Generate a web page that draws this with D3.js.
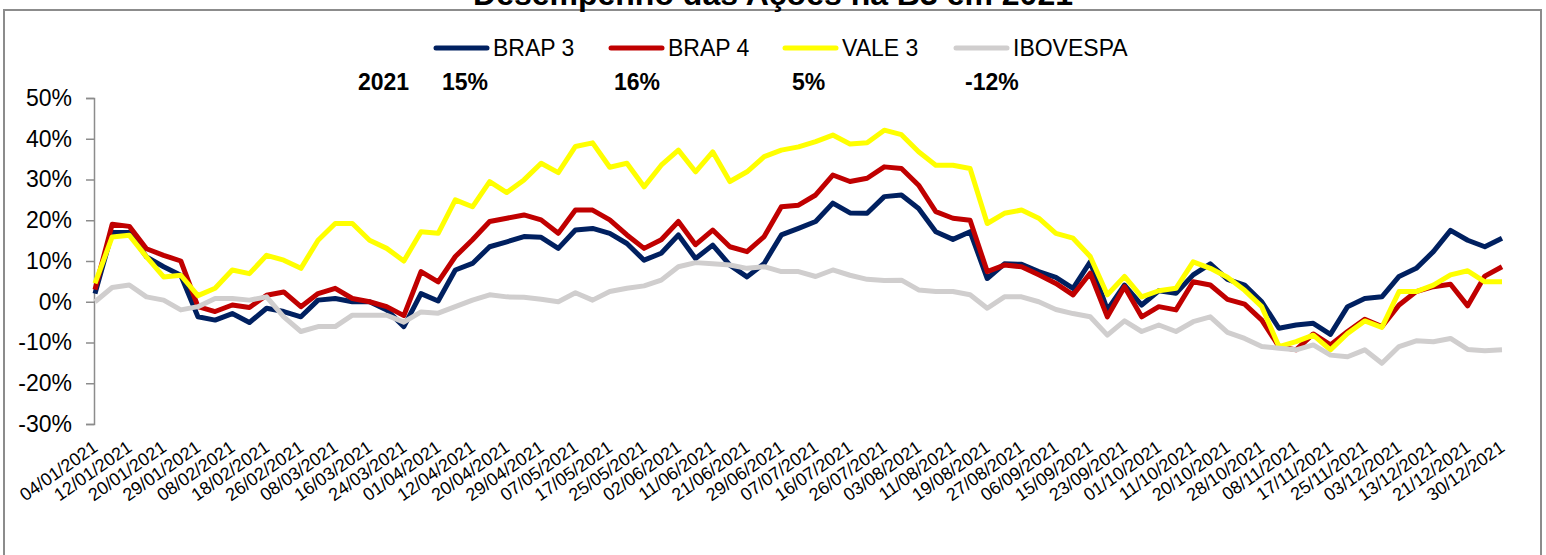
<!DOCTYPE html>
<html>
<head>
<meta charset="utf-8">
<script src="https://cdn.jsdelivr.net/npm/d3@7"></script>
<style>
  body { margin: 0; background: #fff; }
  text { font-family: "Liberation Sans", Arial, sans-serif; }
</style>
</head>
<body>
<div id="chart"></div>
<script>
    // B3 closed days in 2021 (weekdays only)
    var holidays = ["01/01", "25/01", "15/02", "16/02", "02/04", "21/04", "03/06",
      "09/07", "07/09", "12/10", "02/11", "15/11", "24/12", "31/12"];

    var seriesNames = ["BRAP 3", "BRAP 4", "VALE 3", "IBOVESPA"];
    var seriesColors = ["#002060", "#c00000", "#ffff00", "#d0cece"];
    var yearReturns = ["15%", "16%", "5%", "-12%"];
    var yTicks = [-30, -20, -10, 0, 10, 20, 30, 40, 50];

    // values in %, one every 3 trading days (04/01, 07/01, 12/01, ...)
    var brap3 = [2.0, 17, 17, 11, 8.6, 6.5, -3.7, -4.5, -2.9, -5.1, -1.6, -2.4, -3.7, 0.4, 0.8, 0, 0, -2,
      -6.1, 2.0, 0.2, 7.8, 9.4, 13.5, 14.7, 16, 15.8, 13.1, 17.6, 18, 16.8, 14.3, 10.2, 11.9, 16.4, 10.6,
      13.9, 9, 6.1, 9.4, 16.4, 18, 19.7, 24.2, 21.8, 21.7, 25.8, 26.2, 22.9, 17.2, 15.3, 17.2, 5.7, 9.3,
      9.2, 7.4, 6, 3.3, 9.8, -2, 4.1, -0.8, 2.7, 2.1, 6.6, 9.3, 5.5, 4.1, 0, -6.5, -5.7, -5.3, -8, -1.2,
      0.8, 1.2, 6.2, 8.2, 12.3, 17.5, 15.1, 13.5, 15.6];
    var brap4 = [3, 19, 18.5, 13, 11.4, 10, -1.2, -2.4, -0.8, -1.4, 1.6, 2.4, -1.2, 2.0, 3.3, 0.8, 0, -1.2,
      -3.4, 7.4, 4.9, 11.1, 15.2, 19.7, 20.5, 21.3, 20.1, 16.8, 22.5, 22.5, 20.1, 16.4, 13.1, 15.2, 19.7, 14,
      17.6, 13.5, 12.3, 16, 23.3, 23.7, 26.2, 31.1, 29.5, 30.3, 33.1, 32.7, 28.6, 22.1, 20.5, 20, 7.4, 9,
      8.6, 6.6, 4.5, 1.7, 7, -3.7, 3.7, -3.7, -1.2, -2, 4.9, 4.1, 0.6, -0.6, -4.5, -11, -11.8, -7.9, -10.6, -7.3,
      -4.3, -6.1, -0.8, 2.5, 3.7, 4.3, -1, 6.3, 8.6];
    var vale3 = [4.5, 15.9, 16.3, 11, 6.1, 6.5, 1.5, 3.3, 7.8, 6.9, 11.4, 10.2, 8.2, 15.1, 19.2, 19.2, 15.1, 13.1,
      10, 17.2, 16.8, 25, 23.3, 29.5, 26.8, 29.9, 34, 31.7, 38.1, 39, 33, 34, 28.2, 33.5, 37.2, 31.9,
      36.8, 29.5, 31.9, 35.6, 37.2, 38, 39.3, 40.9, 38.7, 39, 42.1, 41, 36.8, 33.5, 33.5, 32.7, 19.2, 21.7,
      22.5, 20.5, 16.8, 15.6, 11.1, 1.7, 6.2, 1.2, 2.7, 3.3, 9.8, 8.2, 6, 2.8, -1.2, -11, -9.8, -8.2, -11.8, -7.8,
      -4.7, -6.3, 2.5, 2.5, 4.1, 6.6, 7.6, 4.9, 4.9];
    var ibov = [0, 3.5, 4.1, 1.2, 0.4, -2, -1.2, 0.8, 0.8, 0.4, 1.2, -3.7, -7.3, -6.1, -6.1, -3.3, -3.3, -3.3,
      -5, -2.5, -2.8, -1.2, 0.4, 1.7, 1.2, 1.1, 0.6, 0, 2.2, 0.4, 2.5, 3.3, 3.9, 5.3, 8.6, 9.6,
      9.3, 9, 8.2, 8.6, 7.4, 7.4, 6.2, 7.8, 6.5, 5.5, 5.2, 5.3, 2.9, 2.5, 2.5, 1.7, -1.6, 1.2,
      1.2, 0, -1.9, -2.9, -3.7, -8.2, -4.7, -7.3, -5.7, -7.3, -4.9, -3.7, -7.5, -9, -11, -11.4, -11.8, -10.6, -13.1, -13.5,
      -11.8, -15.1, -11, -9.6, -9.8, -9, -11.7, -12, -11.8];
    var allSeries = [brap3, brap4, vale3, ibov];

    // trading days of 2021
    var fmt = d3.timeFormat("%d/%m/%Y");
    var dates = d3.timeDays(new Date(2021, 0, 1), new Date(2022, 0, 1))
      .filter(function (d) {
        var wd = d.getDay();
        return wd !== 0 && wd !== 6 && holidays.indexOf(fmt(d).slice(0, 5)) < 0;
      })
      .map(fmt);
    var sampleDates = dates.filter(function (d, i) { return i % 3 === 0; });
    var tickLabels = dates.filter(function (d, i) { return i % 6 === 0; });

    var width = 1546, height = 555;
    var svg = d3.select("#chart").append("svg")
      .attr("width", width)
      .attr("height", height);

    svg.append("rect")
      .attr("x", 4).attr("y", 10)
      .attr("width", 1537).attr("height", 600)
      .attr("fill", "#fff")
      .attr("stroke", "#8c8c8c")
      .attr("stroke-width", 2);

    // title sits above the frame, mostly outside the picture
    svg.append("text")
      .attr("x", 773).attr("y", 5)
      .attr("text-anchor", "middle")
      .style("font-size", "32px")
      .style("font-weight", "bold")
      .text("Desempenho das Ações na B3 em 2021");

    var x = d3.scalePoint().domain(dates).range([95, 1502]);
    var y = d3.scaleLinear().domain([-30, 50]).range([424, 98]);

    var yAxis = svg.append("g")
      .attr("transform", "translate(94,0)")
      .call(d3.axisLeft(y).tickValues(yTicks).tickSize(8).tickPadding(14)
        .tickFormat(function (d) { return d + "%"; }));
    yAxis.select(".domain").attr("stroke", "#8c8c8c").attr("stroke-width", 1.5);
    yAxis.selectAll(".tick line").attr("stroke", "#8c8c8c").attr("stroke-width", 1.5);
    yAxis.selectAll(".tick text")
      .style("font-size", "23px")
      .style("font-family", "'Liberation Sans', Arial, sans-serif")
      .attr("fill", "#000");

    // rotated date labels
    svg.append("g").selectAll("text")
      .data(tickLabels)
      .enter()
      .append("text")
        .attr("transform", function (d) { return "translate(" + (x(d) + 4) + ",450) rotate(-35)"; })
        .attr("text-anchor", "end")
        .style("font-size", "18px")
        .text(function (d) { return d; });

    var line = d3.line()
      .x(function (d, i) { return x(sampleDates[i]); })
      .y(function (d) { return y(d); });

    svg.append("g").selectAll("path")
      .data(allSeries)
      .enter()
      .append("path")
        .attr("d", line)
        .attr("fill", "none")
        .attr("stroke", function (d, i) { return seriesColors[i]; })
        .attr("stroke-width", 5)
        .attr("stroke-linejoin", "round");

    // legend
    var legendX = [434, 609, 783, 954];
    var legend = svg.append("g").selectAll("g")
      .data(seriesNames)
      .enter()
      .append("g")
        .attr("transform", function (d, i) { return "translate(" + legendX[i] + ",48)"; });
    legend.append("line")
      .attr("x1", 2).attr("x2", 53)
      .attr("stroke", function (d, i) { return seriesColors[i]; })
      .attr("stroke-width", 5)
      .attr("stroke-linecap", "round");
    legend.append("text")
      .attr("x", 59).attr("y", 8)
      .style("font-size", "23px")
      .text(function (d) { return d; });

    // yearly returns row
    var returnX = [442, 614, 792, 965];
    svg.append("text")
      .attr("x", 358).attr("y", 90)
      .style("font-size", "23px")
      .style("font-weight", "bold")
      .text("2021");
    svg.append("g").selectAll("text")
      .data(yearReturns)
      .enter()
      .append("text")
        .attr("x", function (d, i) { return returnX[i]; })
        .attr("y", 90)
        .style("font-size", "23px")
        .style("font-weight", "bold")
        .text(function (d) { return d; });
</script>
</body>
</html>
